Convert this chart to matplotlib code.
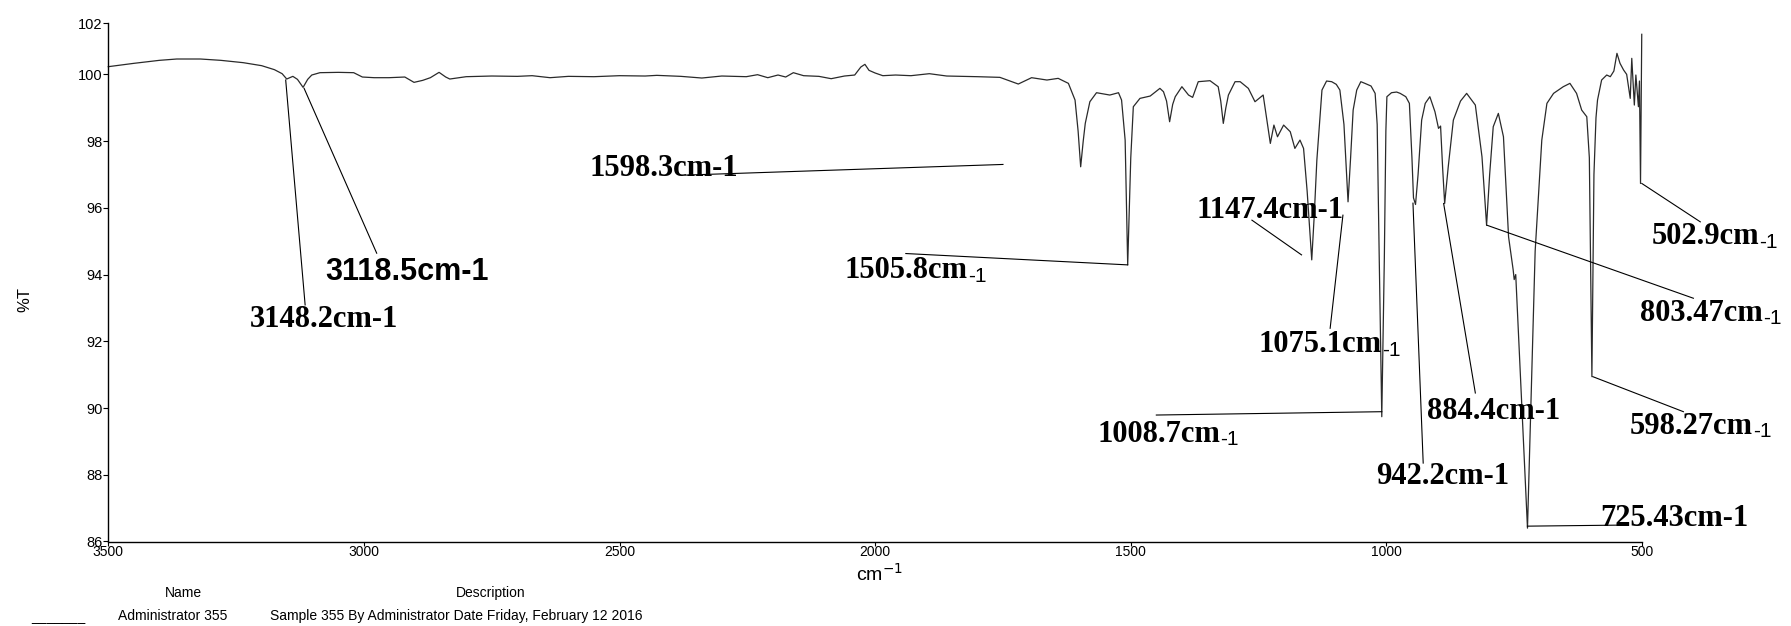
import matplotlib
matplotlib.use("Agg")
import matplotlib.pyplot as plt

# IR spectrum: wavenumber (cm-1) and %T
wavenumber = [
    3500, 3450, 3400, 3366, 3320, 3280, 3236, 3200, 3175, 3160,
    3151, 3145, 3139, 3130, 3119, 3110, 3102, 3086, 3050, 3020,
    3003, 2980, 2951, 2920, 2902, 2885, 2870, 2853, 2840, 2832,
    2800, 2750, 2700, 2671, 2636, 2600, 2550, 2500, 2450, 2427,
    2380, 2339, 2300, 2252, 2230, 2210, 2190, 2175, 2160, 2140,
    2110, 2086, 2060, 2040, 2028, 2020, 2012, 2000, 1985, 1960,
    1930, 1894, 1860, 1800, 1756,
    1720, 1694, 1664, 1642, 1622, 1609, 1603, 1598, 1593, 1589,
    1580, 1567, 1541, 1524, 1518, 1511, 1506, 1500, 1495, 1482,
    1462, 1443, 1436, 1430, 1424, 1418, 1413, 1400, 1387, 1379,
    1368, 1345, 1329, 1324, 1319, 1314, 1309, 1296, 1286, 1270,
    1257, 1241, 1227, 1220, 1213, 1201, 1188, 1179, 1169, 1162,
    1155, 1146, 1141, 1136, 1126, 1117, 1107, 1098, 1091, 1083,
    1075, 1070, 1065, 1058, 1050, 1042, 1030, 1022, 1018, 1014,
    1009, 1004, 1001, 999, 990, 980, 973, 962, 955, 950,
    947, 943, 938, 931, 924, 915, 905, 898, 894, 890,
    886, 879, 869, 855, 843, 826, 813, 804, 798, 791,
    781, 771, 761, 752, 750, 747, 724, 709, 696, 686,
    673, 654, 641, 628, 618, 608, 603, 598, 594, 590,
    587, 579, 569, 562, 555, 549, 543, 536, 530, 526,
    523, 520, 515, 512, 507, 505, 502.9, 500.5,
]
transmittance = [
    100.23, 100.33, 100.42, 100.46, 100.46, 100.42, 100.35, 100.26, 100.14, 100.02,
    99.86, 99.90, 99.94, 99.85, 99.61, 99.85, 99.98, 100.05, 100.06, 100.05,
    99.92, 99.90, 99.90, 99.92, 99.76, 99.82, 99.90, 100.06, 99.92, 99.86,
    99.93, 99.95, 99.94, 99.96, 99.90, 99.94, 99.93, 99.96, 99.95, 99.97,
    99.94, 99.89, 99.95, 99.93, 99.99, 99.90, 99.98, 99.92, 100.05, 99.96,
    99.94, 99.87, 99.95, 99.98, 100.22, 100.30, 100.12, 100.04, 99.96, 99.98,
    99.96, 100.02, 99.95, 99.93, 99.91,
    99.71, 99.90, 99.83, 99.88, 99.73, 99.23, 98.30, 97.23, 98.00, 98.53,
    99.18, 99.45, 99.38, 99.45, 99.23, 98.03, 94.29, 97.50, 99.03, 99.28,
    99.35, 99.58, 99.48, 99.20, 98.58, 99.10, 99.33, 99.63, 99.38, 99.31,
    99.78, 99.81, 99.63, 99.20, 98.53, 99.00, 99.38, 99.78, 99.78, 99.58,
    99.18, 99.38, 97.93, 98.48, 98.13, 98.48, 98.28, 97.78, 98.03, 97.78,
    96.50, 94.44, 95.80, 97.43, 99.53, 99.80, 99.78, 99.70, 99.53, 98.50,
    96.18, 97.50, 98.93, 99.53, 99.78, 99.73, 99.65, 99.43, 98.50, 94.50,
    89.74, 94.50, 98.30, 99.33, 99.45, 99.47, 99.43, 99.33, 99.13, 97.50,
    96.30, 96.10, 97.00, 98.63, 99.13, 99.33, 98.88, 98.38, 98.45, 97.20,
    96.13, 97.23, 98.63, 99.20, 99.43, 99.08, 97.53, 95.48, 97.00, 98.43,
    98.83, 98.13, 95.13, 94.14, 93.85, 94.00, 86.40, 94.70, 98.03, 99.13,
    99.43, 99.63, 99.73, 99.43, 98.93, 98.73, 97.50, 90.94, 97.00, 98.70,
    99.23, 99.83, 99.98, 99.93, 100.10, 100.63, 100.33, 100.13, 100.00, 99.60,
    99.28, 100.48, 99.08, 99.98, 99.03, 99.80, 96.73, 101.20,
]

# peak labels: text, label position (wn, %T), leader line start and end (wn, %T)
peak_text = ["3118.5cm-1", "3148.2cm-1", "1598.3cm-1", "1505.8cm", "1147.4cm-1",
             "1075.1cm", "1008.7cm", "942.2cm-1", "884.4cm-1", "803.47cm",
             "725.43cm-1", "598.27cm", "502.9cm"]
small_suffix = [False, False, False, True, False,
                True, True, False, False, True,
                False, True, True]
label_wn = [3076, 3223, 2558, 2059, 1371, 1250, 1566, 1021, 921, 504, 582, 524, 481]
label_t = [94.09, 92.64, 97.19, 94.11, 95.93, 91.89, 89.22, 87.94, 89.89, 92.84, 86.70, 89.46, 95.13]
leader_wn0 = [3117, 3153, 2372, 1940, 1263, 1110, 1450, 948, 888, 803.6, 724.1, 596.2, 500.4]
leader_t0 = [99.58, 99.83, 96.98, 94.63, 95.63, 92.39, 89.79, 96.14, 96.13, 95.48, 86.46, 90.94, 96.73]
leader_wn1 = [2975, 3115, 1750, 1506, 1166, 1085, 1009, 928, 826, 399.5, 549.3, 419, 386]
leader_t1 = [94.64, 93.09, 97.30, 94.29, 94.59, 95.78, 89.89, 88.35, 90.45, 93.29, 86.49, 89.89, 95.58]

x_ticks = [3500, 3000, 2500, 2000, 1500, 1000, 500]
y_ticks = [86, 88, 90, 92, 94, 96, 98, 100, 101.53]
y_tick_labels = ["86", "88", "90", "92", "94", "96", "98", "100", "102"]

W, H = 1791, 626
SANS = "Liberation Sans"
SERIF = "Liberation Serif"

fig = plt.figure(figsize=(W / 100, H / 100), dpi=100)
ax = fig.add_axes([108.3 / W, 1 - 541.5 / H, (1642 - 108.3) / W, (541.5 - 23.3) / H])

ax.plot(wavenumber, transmittance, color="#2a2a2a", linewidth=0.9, clip_on=False)

for i, txt in enumerate(peak_text):
    ax.plot([leader_wn0[i], leader_wn1[i]], [leader_t0[i], leader_t1[i]],
            color="black", linewidth=0.8, clip_on=False)
    if i == 0:
        t = ax.text(label_wn[i], label_t[i], txt, family=SANS, fontweight="bold",
                    fontsize=22, ha="left", va="center")
    else:
        t = ax.text(label_wn[i], label_t[i], txt, family=SERIF, fontweight="bold",
                    fontsize=22, ha="left", va="center")
    if small_suffix[i]:
        ax.annotate("-1", xy=(1.0, 0.32), xycoords=t, family=SANS,
                    fontsize=15, ha="left", va="center")

ax.set_xlim(3500, 500)
ax.set_ylim(86, 101.53)
ax.set_xticks(x_ticks)
ax.set_xticklabels([str(v) for v in x_ticks], family=SANS, fontsize=10)
ax.set_yticks(y_ticks)
ax.set_yticklabels(y_tick_labels, family=SANS, fontsize=10.5)
ax.tick_params(axis="x", direction="out", length=3, pad=-0.5, width=0.8)
ax.tick_params(axis="y", direction="out", length=3.5, pad=0.5, width=0.8)
for side in ("top", "right"):
    ax.spines[side].set_visible(False)
for side in ("left", "bottom"):
    ax.spines[side].set_linewidth(1.0)

fig.text(25 / W, 1 - 299 / H, "%T", family=SANS, fontsize=12,
         rotation=90, ha="center", va="center")
fig.text(879 / W, 1 - 574 / H, "cm$^{-1}$", family=SANS, fontsize=14,
         ha="center", va="center")

# footer
fig.text(183 / W, 1 - 593 / H, "Name", family=SANS, fontsize=10, ha="center", va="center")
fig.text(491 / W, 1 - 593 / H, "Description", family=SANS, fontsize=10, ha="center", va="center")
fig.text(118 / W, 1 - 616 / H, "Administrator 355", family=SANS, fontsize=10,
         ha="left", va="center")
fig.text(270 / W, 1 - 616 / H, "Sample 355 By Administrator Date Friday, February 12 2016",
         family=SANS, fontsize=10, ha="left", va="center")
fig.text(31 / W, 1 - 617 / H, "_______", family=SANS, fontsize=10, ha="left", va="center")

fig.savefig("out.png", dpi=100)
